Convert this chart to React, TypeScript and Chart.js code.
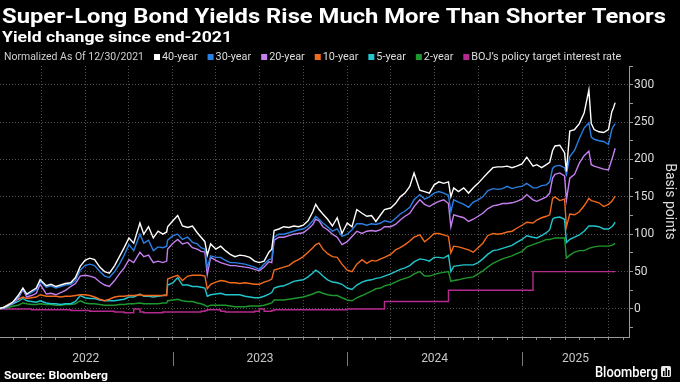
import { useEffect, useRef } from 'react';
import { Chart, registerables } from 'chart.js';

Chart.register(...registerables);

const TITLE = 'Super-Long Bond Yields Rise Much More Than Shorter Tenors';
const SUBTITLE = 'Yield change since end-2021';
const LEGEND_PREFIX = 'Normalized As Of 12/30/2021';
const SOURCE = 'Source: Bloomberg';
const Y_TITLE = 'Basis points';

const dates = [
  '2021-12-30','2022-01-11','2022-01-21','2022-02-01','2022-02-11','2022-02-21','2022-03-01','2022-03-11','2022-03-21','2022-03-29',
  '2022-04-11','2022-04-21','2022-05-01','2022-05-11','2022-05-21','2022-06-01','2022-06-11','2022-06-21','2022-07-01','2022-07-11',
  '2022-07-21','2022-08-01','2022-08-11','2022-08-21','2022-09-01','2022-09-11','2022-09-21','2022-10-01','2022-10-11','2022-10-24',
  '2022-11-01','2022-11-11','2022-11-21','2022-12-01','2022-12-11','2022-12-19','2022-12-21','2023-01-01','2023-01-11','2023-01-21',
  '2023-02-01','2023-02-11','2023-02-21','2023-03-01','2023-03-09','2023-03-14','2023-03-21','2023-04-01','2023-04-11','2023-04-21',
  '2023-05-01','2023-05-11','2023-05-21','2023-06-01','2023-06-11','2023-06-21','2023-07-01','2023-07-11','2023-07-21','2023-07-27',
  '2023-08-01','2023-08-11','2023-08-21','2023-09-01','2023-09-11','2023-09-21','2023-10-01','2023-10-11','2023-10-21','2023-10-27',
  '2023-11-03','2023-11-11','2023-11-21','2023-12-01','2023-12-11','2023-12-21','2024-01-01','2024-01-11','2024-01-21','2024-02-01',
  '2024-02-11','2024-02-21','2024-03-01','2024-03-11','2024-03-19','2024-04-01','2024-04-11','2024-04-21','2024-05-01','2024-05-11',
  '2024-05-20','2024-06-01','2024-06-11','2024-06-21','2024-07-01','2024-07-11','2024-07-21','2024-07-31','2024-08-05','2024-08-11',
  '2024-08-21','2024-09-01','2024-09-11','2024-09-21','2024-10-01','2024-10-11','2024-10-21','2024-11-01','2024-11-11','2024-11-21',
  '2024-12-01','2024-12-11','2024-12-21','2025-01-01','2025-01-11','2025-01-24','2025-02-01','2025-02-11','2025-02-21','2025-02-28',
  '2025-03-06','2025-03-11','2025-03-21','2025-03-31','2025-04-04','2025-04-11','2025-04-21','2025-05-01','2025-05-11','2025-05-21',
  '2025-05-26','2025-06-01','2025-06-11','2025-06-21','2025-07-01','2025-07-08','2025-07-11','2025-07-15',
];

const year40 = [
  0,2,5,10,18,28,20,24,28,39, 31,33,30,32,34,35,42,57,65,68,
  66,56,50,48,58,70,82,95,88,115, 100,110,95,104,100,103,110,118,125,111,
  109,111,102,96,90,72,87,80,84,78, 73,70,72,71,69,64,62,64,76,80,
  105,107,110,109,111,110,112,118,130,140, 133,127,120,111,122,101,115,110,133,128,
  124,125,117,126,133,135,141,150,155,164, 182,159,157,155,166,170,168,170,150,162,
  157,162,155,162,168,175,182,189,190,190, 191,189,191,194,203,191,193,189,193,196,
  212,218,219,209,184,238,240,248,262,293, 248,240,237,236,240,264,268,276,
];
const year30 = [
  0,2,5,9,16,27,19,22,26,37, 29,31,28,30,32,33,38,52,58,60,
  58,50,44,42,50,60,72,86,78,100, 88,92,78,83,82,84,92,98,100,93,
  96,89,87,82,80,55,71,69,69,65, 62,62,61,60,58,56,53,60,66,67,
  96,100,100,102,104,106,107,111,118,124, 120,115,110,104,107,97,100,106,114,114,
  112,114,113,115,118,116,121,127,131,136, 146,153,147,150,155,157,155,152,130,146,
  143,140,136,143,146,150,158,161,160,161, 164,161,163,164,168,162,162,165,166,170,
  188,191,192,189,180,204,212,228,242,249, 230,227,225,224,220,240,244,248,
];
const year20 = [
  0,1,4,8,14,26,16,18,21,33, 20,21,19,22,25,30,34,44,45,44,
  42,36,32,30,38,47,55,66,62,76, 70,72,62,64,62,64,80,88,93,87,
  89,82,80,77,76,46,69,65,62,60, 58,58,57,56,55,53,51,56,63,62,
  92,96,96,98,100,101,102,107,113,120, 118,110,106,100,96,86,90,97,104,101,
  104,105,104,106,110,110,113,119,124,128, 137,146,140,137,141,144,146,141,110,126,
  124,122,117,120,124,128,134,138,139,141, 141,142,144,147,153,146,144,147,150,155,
  175,180,182,178,146,175,180,195,205,211, 193,191,189,187,186,200,206,215,
];
const year10 = [
  0,2,6,9,13,16,14,15,16,19, 17,17,17,16,17,17,18,19,19,18,
  16,13,11,13,16,17,17,18,18,19, 18,18,18,18,18,18,40,43,45,38,
  44,45,45,45,44,27,33,36,38,37, 35,35,34,35,34,33,33,36,38,40,
  52,54,56,58,63,66,70,76,82,86, 88,80,74,70,69,60,52,50,60,66,
  61,65,64,67,69,73,79,82,86,91, 96,99,90,95,101,101,99,97,75,84,
  83,81,79,76,82,88,98,101,100,101, 103,104,108,112,116,115,119,122,124,126,
  148,150,145,147,110,127,126,130,138,148, 145,144,142,137,140,144,147,151,
];
const year5 = [
  0,1,4,7,10,14,11,10,9,11, 8,7,7,6,7,7,10,18,15,14,
  14,12,11,11,11,12,13,16,16,20, 17,17,16,17,18,19,32,35,42,32,
  32,30,30,29,28,17,19,20,21,19, 19,19,19,17,16,15,15,17,20,22,
  28,30,31,34,37,38,39,43,48,52, 49,44,39,36,35,33,28,26,32,36,
  38,39,41,42,44,47,50,53,55,58, 63,67,66,64,69,69,68,72,50,57,
  58,59,59,59,62,67,73,78,79,81, 83,85,89,93,98,96,95,98,102,106,
  120,122,123,120,89,93,96,99,104,111, 111,111,110,107,107,110,112,116,
];
const year2 = [
  0,1,2,4,5,8,7,6,6,7, 6,6,5,5,6,6,7,11,8,7,
  7,6,5,5,5,6,6,7,7,8, 7,7,7,7,8,8,11,12,13,11,
  10,10,8,7,5,3,5,5,5,5, 4,3,3,3,4,4,4,5,7,8,
  12,12,12,13,14,15,16,18,20,22, 23,21,19,18,18,15,12,11,15,18,
  21,24,27,28,31,33,36,39,41,43, 47,50,44,44,46,48,49,50,37,38,
  39,41,42,43,47,51,56,61,64,67, 69,71,74,77,83,86,88,90,93,93,
  94,95,95,95,68,72,76,78,78,81, 82,83,84,84,84,85,86,88,
];
const bojRate = [
  0,0,0,0,0,0,0,-1,-1,-1, -1,-1,-1,-1,-1,-2,-2,-2,-2,-3,
  -3,-3,-3,-3,-4,-4,-5,-5,0,-4, -5,-5,-5,-5,-4,-4,-4,-4,-4,-4,
  -4,-4,-4,-3,-2,-1,-1,-1,-3,-4, -4,-4,-4,-4,-4,-3,0,-3,-3,-2,
  -1,-1,-1,-1,-1,-1,-1,-1,-1,-1, -1,-1,-1,-1,-1,-1,0,0,0,0,
  0,0,0,0,10,10,10,10,10,10, 10,10,10,10,10,10,10,25,25,25,
  25,25,25,25,25,25,25,25,25,25, 25,25,25,25,25,50,50,50,50,50,
  50,50,50,50,50,50,50,50,50,50, 50,50,50,50,50,50,50,50,
];

const seriesNames = ['40-year', '30-year', '20-year', '10-year', '5-year', '2-year', 'BOJ’s policy target interest rate'];
const seriesValues = [year40, year30, year20, year10, year5, year2, bojRate];
const seriesColors = ['#ffffff', '#2a7fe3', '#c57ff0', '#f26a1c', '#22c5cd', '#1f972e', '#b42a8e'];

const yTicks = [-25, 0, 25, 50, 75, 100, 125, 150, 175, 200, 225, 250, 275, 300, 325];
const yearLabels = ['2022', '2023', '2024', '2025'];
const X_START = '2022-01-04';
const X_END = '2025-08-13';
const Y_MIN = -37.5;
const Y_MAX = 325;

const BASE = Date.UTC(2021, 11, 30);
const toDay = (s: string) => {
  const [y, m, d] = s.split('-').map(Number);
  return (Date.UTC(y, m - 1, d) - BASE) / 86400000;
};
const dayMonth = (v: number) => new Date(BASE + v * 86400000).getUTCMonth();

const FONT = 'Roboto, "Open Sans", "DejaVu Sans", sans-serif';

function drawScaled(ctx: CanvasRenderingContext2D, text: string, x: number, y: number, sx: number, color: string) {
  ctx.save();
  ctx.translate(x, y);
  ctx.scale(sx, 1);
  ctx.fillStyle = color;
  ctx.fillText(text, 0, 0);
  ctx.restore();
}

function fitText(ctx: CanvasRenderingContext2D, text: string, x: number, y: number, font: string, color: string, width: number) {
  ctx.font = font;
  const sx = width / ctx.measureText(text).width;
  drawScaled(ctx, text, x, y, sx, color);
}

const decor = {
  id: 'decor',
  beforeDraw(chart: any) {
    const { ctx, width, height } = chart;
    ctx.save();
    ctx.fillStyle = '#000';
    ctx.fillRect(0, 0, width, height);
    ctx.restore();
  },
  afterDraw(chart: any) {
    const ctx: CanvasRenderingContext2D = chart.ctx;
    const xs = chart.scales.x;
    const area = chart.chartArea;
    ctx.save();
    ctx.textAlign = 'left';
    ctx.textBaseline = 'alphabetic';
    fitText(ctx, TITLE, 2, 23, `bold 21px ${FONT}`, '#ffffff', 664);
    fitText(ctx, SUBTITLE, 2, 42, `bold 15px ${FONT}`, '#ffffff', 230);

    // legend
    ctx.textBaseline = 'middle';
    ctx.font = `11px ${FONT}`;
    const sxPrefix = 140 / ctx.measureText(LEGEND_PREFIX).width;
    const sxItems = 150 / ctx.measureText(seriesNames[seriesNames.length - 1]).width;
    drawScaled(ctx, LEGEND_PREFIX, 4, 57, sxPrefix, '#cfcfcf');
    let lx = 4 + 140 + 10;
    seriesNames.forEach((name, i) => {
      ctx.fillStyle = seriesColors[i];
      ctx.fillRect(lx, 54, 6, 6);
      const w = ctx.measureText(name).width * sxItems;
      drawScaled(ctx, name, lx + 8, 57, sxItems, '#dddddd');
      lx += 8 + w + 10;
    });

    // year labels and separators
    const starts = yearLabels.map((y) => xs.getPixelForValue(toDay(`${y}-01-01`)));
    ctx.font = `12px ${FONT}`;
    ctx.textAlign = 'center';
    ctx.fillStyle = '#c8c8c8';
    yearLabels.forEach((label, i) => {
      const a = Math.max(starts[i], area.left - 2);
      const b = i + 1 < starts.length ? starts[i + 1] : area.right;
      ctx.fillText(label, (a + b) / 2, 359);
    });
    ctx.strokeStyle = '#7a7a7a';
    ctx.lineWidth = 1;
    starts.slice(1).forEach((px) => {
      const xx = Math.round(px) + 0.5;
      ctx.beginPath();
      ctx.moveTo(xx, 352);
      ctx.lineTo(xx, 366);
      ctx.stroke();
    });

    // source
    ctx.textAlign = 'left';
    ctx.textBaseline = 'alphabetic';
    fitText(ctx, SOURCE, 4, 379, `bold 11px ${FONT}`, '#ffffff', 104);

    // Bloomberg logo
    fitText(ctx, 'Bloomberg', 595, 377, `500 15px ${FONT}`, '#ffffff', 63);
    ctx.fillStyle = '#e8e8e8';
    ctx.beginPath();
    (ctx as any).roundRect ? (ctx as any).roundRect(661, 366, 10, 11, 1.5) : ctx.rect(661, 366, 10, 11);
    ctx.fill();
    ctx.fillStyle = '#000';
    ctx.fillRect(663, 371, 1.5, 5);
    ctx.fillRect(665.5, 368, 1.5, 8);
    ctx.fillRect(668, 370, 1.5, 6);
    ctx.restore();
  },
};

export default function App() {
  const ref = useRef<HTMLCanvasElement | null>(null);

  useEffect(() => {
    const canvas = ref.current;
    if (!canvas) return;
    Chart.defaults.font.family = FONT;
    const days = dates.map(toDay);
    const xMin = toDay(X_START);
    const xMax = toDay(X_END);
    const monthTicks: number[] = [];
    for (let y = 2022; y <= 2025; y++) {
      for (let m = 1; m <= 12; m++) {
        const d = toDay(`${y}-${String(m).padStart(2, '0')}-01`);
        if (d >= xMin && d <= xMax) monthTicks.push(d);
      }
    }

    const datasets = seriesNames.map((name, i) => ({
      label: name,
      data: seriesValues[i].map((v, j) => ({ x: days[j], y: v })),
      borderColor: seriesColors[i],
      backgroundColor: seriesColors[i],
      borderWidth: 1.4,
      pointRadius: 0,
      tension: 0,
      fill: false,
      stepped: i === 6 ? 'before' : false,
    }));

    const chart = new Chart(canvas, {
      type: 'line',
      data: { datasets: datasets as any },
      options: {
        animation: false,
        responsive: false,
        maintainAspectRatio: false,
        events: [],
        layout: { padding: { top: 66, left: 0, right: 0, bottom: 0 } },
        plugins: {
          legend: { display: false },
          tooltip: { enabled: false },
          title: { display: false },
        },
        scales: {
          x: {
            type: 'linear',
            min: xMin,
            max: xMax,
            afterBuildTicks: (s: any) => {
              s.ticks = monthTicks.map((v) => ({ value: v }));
            },
            afterFit: (s: any) => {
              s.height = 45;
            },
            grid: {
              color: (c: any) => (c.tick && dayMonth(c.tick.value) % 3 === 0 ? '#4e4e4e' : 'rgba(0,0,0,0)'),
              lineWidth: 1,
              drawTicks: true,
              tickLength: 3,
              tickColor: '#8a8a8a',
              tickWidth: 1,
            },
            border: { display: true, color: '#9a9a9a', width: 1, dash: [1, 2] },
            ticks: { display: false },
          },
          y: {
            type: 'linear',
            position: 'right',
            min: Y_MIN,
            max: Y_MAX,
            afterBuildTicks: (s: any) => {
              s.ticks = yTicks.map((v) => ({ value: v }));
            },
            afterFit: (s: any) => {
              s.width = 51;
            },
            grid: {
              color: (c: any) => (c.tick && c.tick.value % 50 === 0 ? '#4e4e4e' : 'rgba(0,0,0,0)'),
              lineWidth: 1,
              drawTicks: true,
              tickLength: 4,
              tickColor: '#9a9a9a',
              tickWidth: 1,
            },
            border: { display: true, color: '#9a9a9a', width: 1, dash: [1, 2] },
            ticks: {
              autoSkip: false,
              padding: 1,
              color: '#dddddd',
              font: { size: 12, family: FONT },
              callback: (v: any) => (Number(v) % 50 === 0 ? String(v) : ''),
            },
            title: {
              display: true,
              text: Y_TITLE,
              color: '#dddddd',
              font: { size: 14, family: FONT },
              padding: { top: 2, bottom: 0 },
            },
          },
        },
      },
      plugins: [decor],
    });
    return () => chart.destroy();
  }, []);

  return (
    <div style={{ position: 'fixed', left: 0, top: 0, width: 680, height: 382, background: '#000' }}>
      <canvas ref={ref} width={680} height={382} style={{ display: 'block', width: 680, height: 382 }} />
    </div>
  );
}
